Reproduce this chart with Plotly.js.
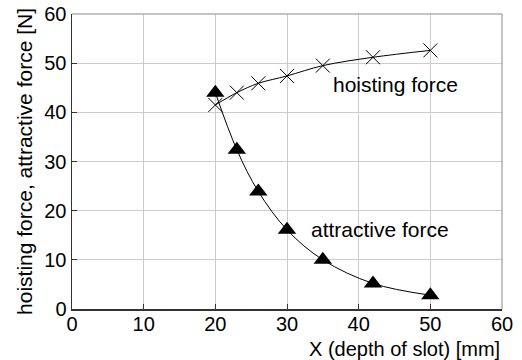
<!DOCTYPE html>
<html>
<head>
<meta charset="utf-8">
<script src="https://cdn.plot.ly/plotly-3.0.1.min.js"></script>
<style>html,body{margin:0;padding:0;background:#fff;}#chart{width:522px;height:360px;}</style>
</head>
<body>
<div id="chart"></div>
<script>
const depth = [20, 23, 26, 30, 35, 42, 50];
const hoistingForce = [41.5, 44.0, 45.9, 47.4, 49.5, 51.2, 52.6];
const depthAttr = [20, 23, 26, 30, 35, 42, 50];
const attractiveForce = [44.0, 32.4, 23.9, 16.1, 10.0, 5.2, 2.8];
const xTicks = [0, 10, 20, 30, 40, 50, 60];
const yTicks = [0, 10, 20, 30, 40, 50, 60];

const font = 'Liberation Sans, Arial, sans-serif';

const traces = [
  {x: depth, y: hoistingForce, mode: 'lines+markers', type: 'scatter',
   line: {color: '#000', width: 1, shape: 'spline'},
   marker: {symbol: 'x-thin-open', size: 14, color: '#000', line: {color: '#000', width: 1}}},
  {x: depthAttr, y: attractiveForce, mode: 'lines+markers', type: 'scatter',
   line: {color: '#000', width: 1, shape: 'spline'},
   marker: {symbol: 'triangle-up', size: 16, color: '#000'}}
];

const layout = {
  width: 522, height: 360,
  margin: {l: 72, r: 20, t: 14, b: 51},
  showlegend: false,
  paper_bgcolor: '#fff', plot_bgcolor: '#fff',
  font: {family: font, size: 20, color: '#000'},
  xaxis: {range: [0, 60], tickvals: xTicks, ticktext: xTicks.map(String),
    showgrid: true, gridcolor: '#cccccc', gridwidth: 1,
    showline: true, linecolor: '#333', linewidth: 1.5, mirror: false,
    ticks: 'inside', ticklen: 5, tickcolor: '#333', zeroline: false,
    ticklabelstandoff: -4,
    tickfont: {family: font, size: 20}},
  yaxis: {range: [0, 60], tickvals: yTicks, ticktext: yTicks.map(String),
    showgrid: true, gridcolor: '#cccccc', gridwidth: 1,
    showline: true, linecolor: '#333', linewidth: 1.5,
    ticks: 'inside', ticklen: 5, tickcolor: '#333', zeroline: false,
    tickfont: {family: font, size: 20},
    title: {text: 'hoisting force, attractive force [N]', font: {family: font, size: 21}, standoff: 6}},
  shapes: [
    {type: 'line', xref: 'paper', yref: 'paper', x0: 0, x1: 1, y0: 1, y1: 1, line: {color: '#888', width: 1}},
    {type: 'line', xref: 'paper', yref: 'paper', x0: 1, x1: 1, y0: 0, y1: 1, line: {color: '#888', width: 1}}
  ],
  annotations: [
    {x: 45.2, y: 45.6, xref: 'x', yref: 'y', text: 'hoisting force', showarrow: false, font: {family: font, size: 21}},
    {x: 43, y: 16.2, xref: 'x', yref: 'y', text: 'attractive force', showarrow: false, font: {family: font, size: 21}},
    {x: 1, y: 0, xref: 'paper', yref: 'paper', xanchor: 'right', yanchor: 'top', yshift: -27,
     text: 'X (depth of slot) [mm]', showarrow: false, font: {family: font, size: 20}}
  ]
};

Plotly.newPlot('chart', traces, layout, {staticPlot: true, displayModeBar: false});
</script>
</body>
</html>
